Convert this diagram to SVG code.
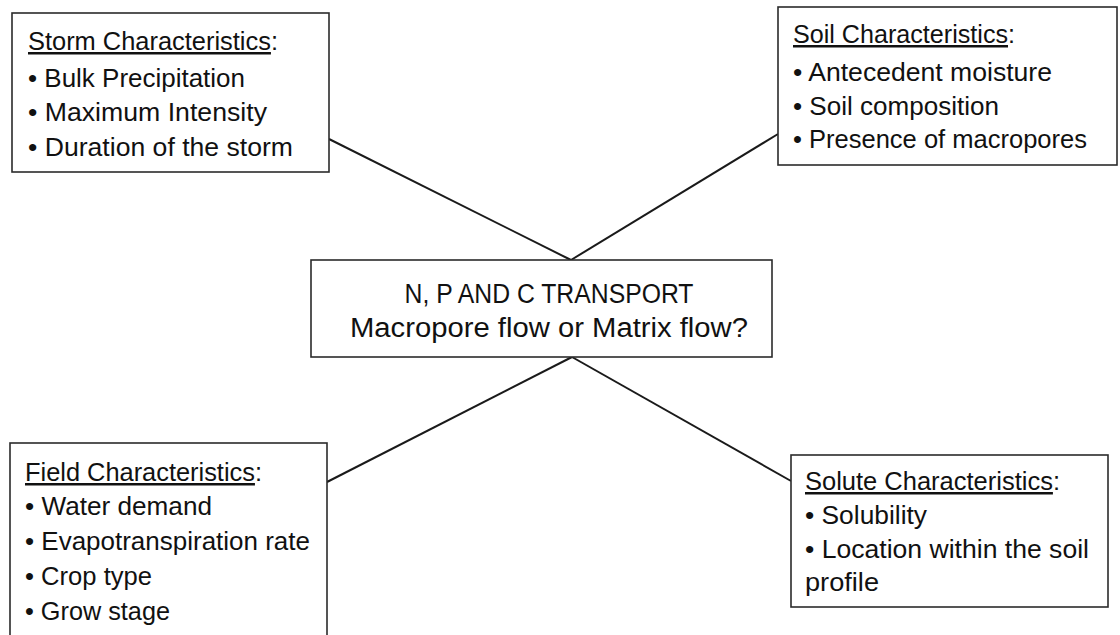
<svg xmlns="http://www.w3.org/2000/svg" width="1120" height="635" viewBox="0 0 1120 635">
  <style>
    .box { fill: #ffffff; stroke: #2b2b2b; stroke-width: 1.6; }
    .link { stroke: #1a1a1a; stroke-width: 2; fill: none; }
    text { font-family: "Liberation Sans", Arial, sans-serif; font-size: 25px; fill: #111111; }
    .u { text-decoration: underline; }
    .mid { text-anchor: middle; font-size: 27px; }
  </style>
  <rect width="1120" height="635" fill="#ffffff"/>

  <!-- connectors -->
  <g id="connectors">
    <line class="link" x1="329" y1="139" x2="571" y2="260"/>
    <line class="link" x1="778" y1="134" x2="571" y2="260"/>
    <line class="link" x1="327" y1="482" x2="572" y2="357"/>
    <line class="link" x1="791" y1="481" x2="572" y2="357"/>
  </g>

  <!-- storm characteristics -->
  <g id="storm">
    <rect class="box" x="12" y="13" width="317" height="159"/>
    <text x="28" y="50" textLength="250" lengthAdjust="spacingAndGlyphs"><tspan class="u">Storm Characteristics</tspan>:</text>
    <text x="28" y="87" textLength="217" lengthAdjust="spacingAndGlyphs">• Bulk Precipitation</text>
    <text x="28" y="121" textLength="239" lengthAdjust="spacingAndGlyphs">• Maximum Intensity</text>
    <text x="28" y="156" textLength="265" lengthAdjust="spacingAndGlyphs">• Duration of the storm</text>
  </g>

  <!-- soil characteristics -->
  <g id="soil">
    <rect class="box" x="778" y="7" width="339" height="158"/>
    <text x="793" y="43" textLength="222" lengthAdjust="spacingAndGlyphs"><tspan class="u">Soil Characteristics</tspan>:</text>
    <text x="793" y="81" textLength="259" lengthAdjust="spacingAndGlyphs">• Antecedent moisture</text>
    <text x="793" y="115" textLength="206" lengthAdjust="spacingAndGlyphs">• Soil composition</text>
    <text x="793" y="148" textLength="294" lengthAdjust="spacingAndGlyphs">• Presence of macropores</text>
  </g>

  <!-- central question -->
  <g id="transport">
    <rect class="box" x="311" y="260" width="461" height="97"/>
    <text class="mid" x="549" y="303" textLength="289" lengthAdjust="spacingAndGlyphs">N, P AND C TRANSPORT</text>
    <text class="mid" x="549" y="337" textLength="398" lengthAdjust="spacingAndGlyphs">Macropore flow or Matrix flow?</text>
  </g>

  <!-- field characteristics -->
  <g id="field">
    <rect class="box" x="10" y="443" width="317" height="200"/>
    <text x="25" y="481" textLength="237" lengthAdjust="spacingAndGlyphs"><tspan class="u">Field Characteristics</tspan>:</text>
    <text x="25" y="515" textLength="187" lengthAdjust="spacingAndGlyphs">• Water demand</text>
    <text x="25" y="550" textLength="285" lengthAdjust="spacingAndGlyphs">• Evapotranspiration rate</text>
    <text x="25" y="585" textLength="127" lengthAdjust="spacingAndGlyphs">• Crop type</text>
    <text x="25" y="620" textLength="145" lengthAdjust="spacingAndGlyphs">• Grow stage</text>
  </g>

  <!-- solute characteristics -->
  <g id="solute">
    <rect class="box" x="791" y="455" width="317" height="152"/>
    <text x="805" y="490" textLength="255" lengthAdjust="spacingAndGlyphs"><tspan class="u">Solute Characteristics</tspan>:</text>
    <text x="805" y="524" textLength="122" lengthAdjust="spacingAndGlyphs">• Solubility</text>
    <text x="805" y="558" textLength="284" lengthAdjust="spacingAndGlyphs">• Location within the soil</text>
    <text x="805" y="591" textLength="74" lengthAdjust="spacingAndGlyphs">profile</text>
  </g>
</svg>
